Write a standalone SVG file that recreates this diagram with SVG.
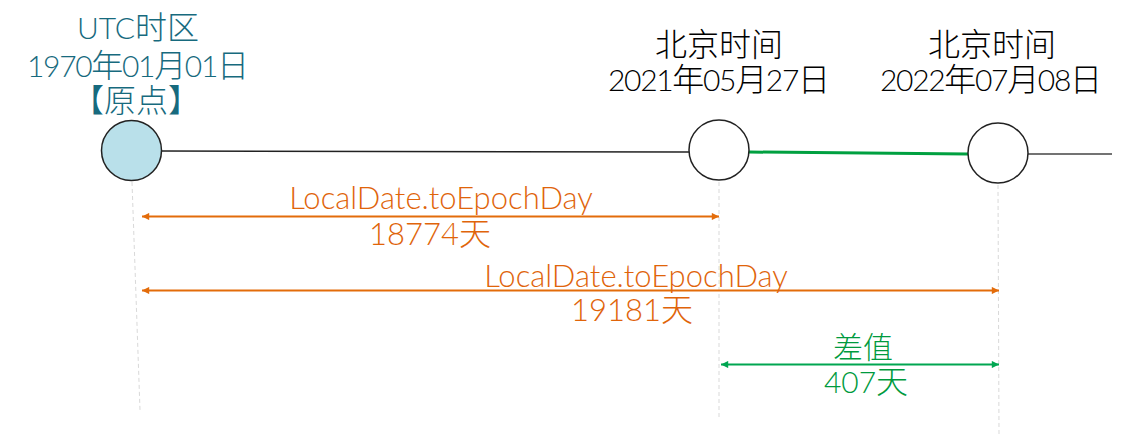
<svg xmlns="http://www.w3.org/2000/svg" width="1133" height="434" viewBox="0 0 1133 434">
<style>
.t{font-family:"Lato","Noto Sans CJK SC",sans-serif;font-weight:300;font-size:30px;text-anchor:middle}
.c{font-size:32px}
.teal{fill:#176a7e}
.blk{fill:#000}
.or{fill:#e0640a;font-size:31px}
.gr{fill:#009a3e}
.guide{stroke:#d9d9d9;stroke-width:1;stroke-dasharray:4 3;fill:none}
.node{stroke:#222;stroke-width:1.5}
</style>
<defs>
<marker id="ao" viewBox="0 0 10 10" refX="10" refY="5" markerWidth="4.5" markerHeight="3.6" orient="auto-start-reverse" markerUnits="strokeWidth"><path d="M0,0L10,5L0,10z" fill="#e36c0a"/></marker>
<marker id="ag" viewBox="0 0 10 10" refX="10" refY="5" markerWidth="4.5" markerHeight="3.6" orient="auto-start-reverse" markerUnits="strokeWidth"><path d="M0,0L10,5L0,10z" fill="#00a651"/></marker>
</defs>
<g id="guides">
<line class="guide" x1="132" y1="182" x2="140" y2="410"/>
<line class="guide" x1="719" y1="182" x2="719" y2="420"/>
<line class="guide" x1="998" y1="185" x2="999" y2="434"/>
</g>
<g id="connectors">
<line x1="161" y1="151" x2="689" y2="152" stroke="#222" stroke-width="1.5"/>
<line x1="749" y1="152" x2="968" y2="154" stroke="#00a040" stroke-width="3"/>
<line x1="1028" y1="154" x2="1112" y2="154" stroke="#444" stroke-width="1.5"/>
<line x1="142" y1="216.5" x2="719" y2="216.5" stroke="#e36c0a" stroke-width="2" marker-start="url(#ao)" marker-end="url(#ao)"/>
<line x1="142" y1="290.5" x2="999" y2="290.5" stroke="#e36c0a" stroke-width="2" marker-start="url(#ao)" marker-end="url(#ao)"/>
<line x1="721" y1="364.5" x2="999" y2="364.5" stroke="#00a651" stroke-width="2" marker-start="url(#ag)" marker-end="url(#ag)"/>
</g>
<g id="origin">
<circle class="node" cx="131.5" cy="150.5" r="30" fill="#b9e0ea"/>
<text class="t teal" x="138" y="39">UTC<tspan class="c">时区</tspan></text>
<text class="t teal" x="138" y="77" textLength="222">1970<tspan class="c">年</tspan>01<tspan class="c">月</tspan>01<tspan class="c">日</tspan></text>
<text class="t teal c" x="136" y="112">【原点】</text>
</g>
<g id="beijing2021">
<circle class="node" cx="719" cy="150" r="30" fill="#fff"/>
<text class="t blk c" x="719" y="56">北京时间</text>
<text class="t blk" x="719" y="91" textLength="222">2021<tspan class="c">年</tspan>05<tspan class="c">月</tspan>27<tspan class="c">日</tspan></text>
</g>
<g id="beijing2022">
<circle class="node" cx="998" cy="153" r="30" fill="#fff"/>
<text class="t blk c" x="992" y="56">北京时间</text>
<text class="t blk" x="991" y="91" textLength="222">2022<tspan class="c">年</tspan>07<tspan class="c">月</tspan>08<tspan class="c">日</tspan></text>
</g>
<g id="labels">
<text class="t or" x="441" y="209">LocalDate.toEpochDay</text>
<text class="t or" x="430" y="245">18774<tspan class="c">天</tspan></text>
<text class="t or" x="636" y="287">LocalDate.toEpochDay</text>
<text class="t or" x="632" y="321">19181<tspan class="c">天</tspan></text>
<text class="t gr" x="863" y="358">差值</text>
<text class="t gr" x="866" y="393">407<tspan class="c">天</tspan></text>
</g>
</svg>
